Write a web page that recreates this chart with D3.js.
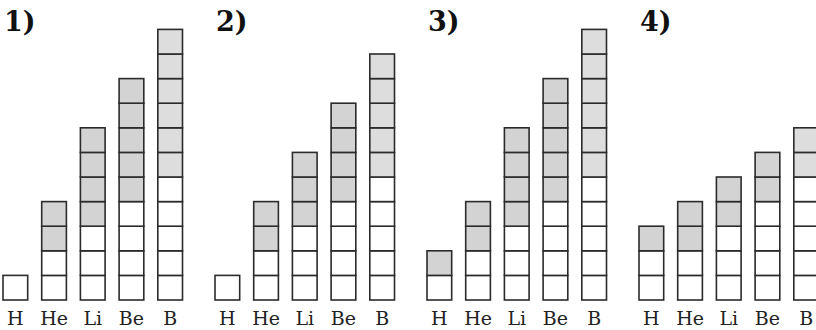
<!DOCTYPE html>
<html>
<head>
<meta charset="utf-8">
<script src="https://cdn.jsdelivr.net/npm/d3@7/dist/d3.min.js"></script>
<style>
  html, body { margin: 0; padding: 0; background: #fff; }
  svg { display: block; }
</style>
</head>
<body>
<div id="chart"></div>
<script>
// data
var elements = ["H", "He", "Li", "Be", "B"];
var panelLabels = ["1)", "2)", "3)", "4)"];
// white cells per column, for each panel
var whiteCounts = [
  [1, 2, 3, 4, 5],
  [1, 2, 3, 4, 5],
  [1, 2, 3, 4, 5],
  [2, 2, 3, 4, 5]
];
// shaded cells stacked on top
var grayCounts = [
  [0, 2, 4, 5, 6],
  [0, 2, 3, 4, 5],
  [1, 2, 4, 5, 6],
  [1, 2, 2, 2, 2]
];
var maxCells = 11;

var width = 816, height = 330;

var svg = d3.select("#chart").append("svg")
  .attr("width", width)
  .attr("height", height);

var panelX = d3.scaleBand()
  .domain(panelLabels)
  .range([3, 3 + 4 * 212]);

var colX = d3.scaleBand()
  .domain(elements)
  .range([0, 179.5])
  .paddingInner(0.362)
  .paddingOuter(0);

var y = d3.scaleLinear()
  .domain([0, maxCells])
  .range([300, 29.4]);

var fillFor = function(d) {
  if (!d.shaded) return "#ffffff";
  return d.el == "B" ? "#dddddd" : "#d3d3d3";
};

panelLabels.forEach(function(label, p) {
  var g = svg.append("g")
    .attr("transform", "translate(" + panelX(label) + ",0)");

  // build the unit cells for this panel
  var cells = [];
  elements.forEach(function(el, i) {
    var w = whiteCounts[p][i], s = grayCounts[p][i];
    for (var k = 0; k < w + s; k++) {
      cells.push({el: el, k: k, shaded: k >= w});
    }
  });

  g.selectAll("rect")
    .data(cells)
    .enter()
    .append("rect")
    .attr("x", function(d) { return colX(d.el); })
    .attr("y", function(d) { return y(d.k + 1); })
    .attr("width", colX.bandwidth())
    .attr("height", function(d) { return y(d.k) - y(d.k + 1); })
    .attr("fill", fillFor)
    .attr("stroke", "#2b2b2b")
    .attr("stroke-width", 1.6);

  g.selectAll("text.el")
    .data(elements)
    .enter()
    .append("text")
    .attr("class", "el")
    .attr("x", function(d) { return colX(d) + colX.bandwidth() / 2; })
    .attr("y", 325)
    .attr("text-anchor", "middle")
    .attr("font-family", "DejaVu Serif")
    .attr("font-size", 19)
    .attr("fill", "#222")
    .text(function(d) { return d; });

  g.append("text")
    .attr("x", 1)
    .attr("y", 31)
    .attr("font-family", "DejaVu Serif")
    .attr("font-weight", "bold")
    .attr("font-size", 27)
    .attr("fill", "#111")
    .text(label);
});
</script>
</body>
</html>
